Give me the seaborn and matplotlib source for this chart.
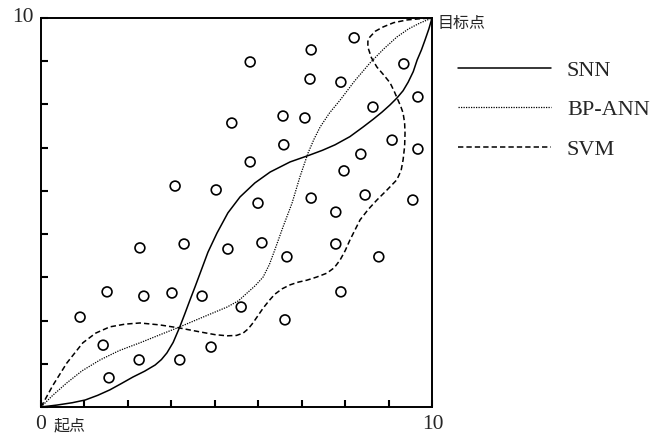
import numpy as np
import pandas as pd
import seaborn as sns
import matplotlib.pyplot as plt

# sample points (circles)
pt_x = [1.00, 1.59, 1.69, 1.74, 2.51, 2.53, 2.63, 3.35, 3.43, 3.55, 3.66, 4.12, 4.35, 4.48, 4.78,
        4.88, 5.12, 5.35, 5.35, 5.55, 5.65, 6.19, 6.21, 6.24, 6.29, 6.75, 6.91, 6.88, 6.91, 7.54,
        7.54, 7.67, 7.67, 7.75, 8.01, 8.18, 8.29, 8.49, 8.64, 8.98, 9.28, 9.51, 9.64, 9.64]
pt_y = [2.31, 1.59, 2.96, 0.75, 1.21, 4.09, 2.85, 2.93, 5.68, 1.21, 4.19, 2.85, 1.54, 5.58, 4.06,
        7.30, 2.57, 8.87, 6.30, 5.24, 4.22, 7.48, 6.74, 2.24, 3.86, 7.43, 9.18, 8.43, 5.37, 5.01,
        4.19, 8.35, 2.96, 6.07, 9.49, 6.50, 5.45, 7.71, 3.86, 6.86, 8.82, 5.32, 6.63, 7.97]

# SNN path
snn_x = [0, 0.41, 0.80, 1.13, 1.45, 1.76, 2.05, 2.35, 2.65, 2.92, 3.08, 3.22, 3.38, 3.55, 3.68,
         3.81, 3.94, 4.07, 4.27, 4.50, 4.78, 5.09, 5.47, 5.86, 6.37, 6.88, 7.20, 7.52, 7.90, 8.24,
         8.50, 8.72, 8.92, 9.10, 9.26, 9.39, 9.52, 9.62, 9.73, 9.82, 9.92, 10]
snn_y = [0, 0.05, 0.11, 0.18, 0.30, 0.44, 0.60, 0.77, 0.92, 1.08, 1.22, 1.39, 1.66, 2.06, 2.40,
         2.75, 3.09, 3.44, 3.98, 4.47, 4.99, 5.40, 5.76, 6.04, 6.30, 6.48, 6.60, 6.74, 6.95, 7.20,
         7.40, 7.58, 7.76, 7.94, 8.13, 8.35, 8.62, 8.92, 9.18, 9.43, 9.72, 10]

# BP-ANN path
ann_x = [0, 0.30, 0.66, 1.05, 1.51, 2.00, 2.53, 3.05, 3.55, 4.14, 4.76, 5.05, 5.27, 5.48, 5.68,
         5.84, 5.98, 6.19, 6.42, 6.62, 6.83, 6.98, 7.14, 7.38, 7.65, 8.02, 8.41, 8.76, 9.10, 9.40,
         9.69, 10]
ann_y = [0, 0.30, 0.62, 0.93, 1.21, 1.45, 1.65, 1.86, 2.06, 2.31, 2.57, 2.73, 2.93, 3.12, 3.34,
         3.66, 4.04, 4.63, 5.24, 5.91, 6.53, 6.88, 7.20, 7.56, 7.89, 8.38, 8.84, 9.20, 9.51, 9.72,
         9.87, 10]

# SVM path
svm_x = [0, 0.30, 0.66, 1.07, 1.40, 1.76, 2.15, 2.53, 3.04, 3.55, 4.07, 4.45, 4.76, 5.00, 5.17,
         5.30, 5.42, 5.55, 5.68, 5.83, 5.98, 6.17, 6.37, 6.58, 6.80, 7.05, 7.31, 7.50, 7.65, 7.78,
         7.90, 8.03, 8.16, 8.37, 8.59, 8.85, 9.10, 9.21, 9.26, 9.30, 9.31, 9.30, 9.26, 9.20, 9.13,
         9.04, 8.93, 8.77, 8.59, 8.45, 8.36, 8.36, 8.41, 8.55, 8.75, 9.02, 9.36, 9.68, 10]
svm_y = [0, 0.55, 1.13, 1.65, 1.90, 2.06, 2.13, 2.16, 2.11, 2.03, 1.93, 1.86, 1.83, 1.84, 1.90,
         2.01, 2.16, 2.35, 2.54, 2.73, 2.90, 3.04, 3.14, 3.21, 3.26, 3.34, 3.44, 3.58, 3.78, 4.02,
         4.29, 4.55, 4.81, 5.08, 5.32, 5.58, 5.84, 6.08, 6.35, 6.70, 7.04, 7.30, 7.56, 7.73, 7.89,
         8.10, 8.33, 8.53, 8.74, 8.98, 9.25, 9.40, 9.51, 9.66, 9.77, 9.88, 9.95, 9.98, 10]

sns.set_theme(style="white")
plt.rcParams['font.family'] = ['Liberation Serif', 'Noto Sans CJK SC']

fig = plt.figure(figsize=(6.53, 4.41), dpi=100)
ax = fig.add_axes([41 / 653, 1 - 407 / 441, 391 / 653, 389 / 441])

sns.lineplot(x=snn_x, y=snn_y, sort=False, estimator=None, color='black', lw=1.1,
             label='SNN', ax=ax)
sns.lineplot(x=ann_x, y=ann_y, sort=False, estimator=None, color='black', lw=0.9,
             linestyle=(0, (1, 1)), label='BP-ANN', ax=ax)
sns.lineplot(x=svm_x, y=svm_y, sort=False, estimator=None, color='black', lw=1.1,
             linestyle=(0, (3.5, 2)), label='SVM', ax=ax)
sns.scatterplot(x=pt_x, y=pt_y, ax=ax, marker='o', s=50, facecolor='none',
                edgecolor='black', linewidth=1.2, zorder=3)

ax.set_xlim(0, 10)
ax.set_ylim(0, 10)
ax.set_xticks(np.linspace(0, 10, 10))
ax.set_yticks(np.linspace(0, 10, 10))
ax.tick_params(direction='in', length=5, width=1.5, color='black', left=True, bottom=True,
               top=False, right=False, labelleft=False, labelbottom=False)
for sp in ax.spines.values():
    sp.set_color('black')
    sp.set_linewidth(1.4)

# axis end labels
ax.text(-0.18, 10.02, '10', ha='right', va='center', fontsize=15.5, clip_on=False)
ax.text(0, -0.46, '0', ha='center', va='center', fontsize=15.5, clip_on=False)
ax.text(0.31, -0.49, '起点', ha='left', va='center', fontsize=11.5, fontweight='medium',
        family=['Noto Sans CJK SC'], clip_on=False)
ax.text(10.03, -0.46, '10', ha='center', va='center', fontsize=15.5, clip_on=False)
ax.text(10.15, 9.85, '目标点', ha='left', va='center', fontsize=11.5, fontweight='medium',
        family=['Noto Sans CJK SC'], clip_on=False)

ax.legend(loc='upper left', bbox_to_anchor=(458 / 653, 1 - 60 / 441),
          bbox_transform=fig.transFigure, frameon=False, handlelength=4.2,
          handletextpad=0.7, labelspacing=0.86, borderpad=0, borderaxespad=0,
          fontsize=16)

fig.savefig('out.png', dpi=100)
